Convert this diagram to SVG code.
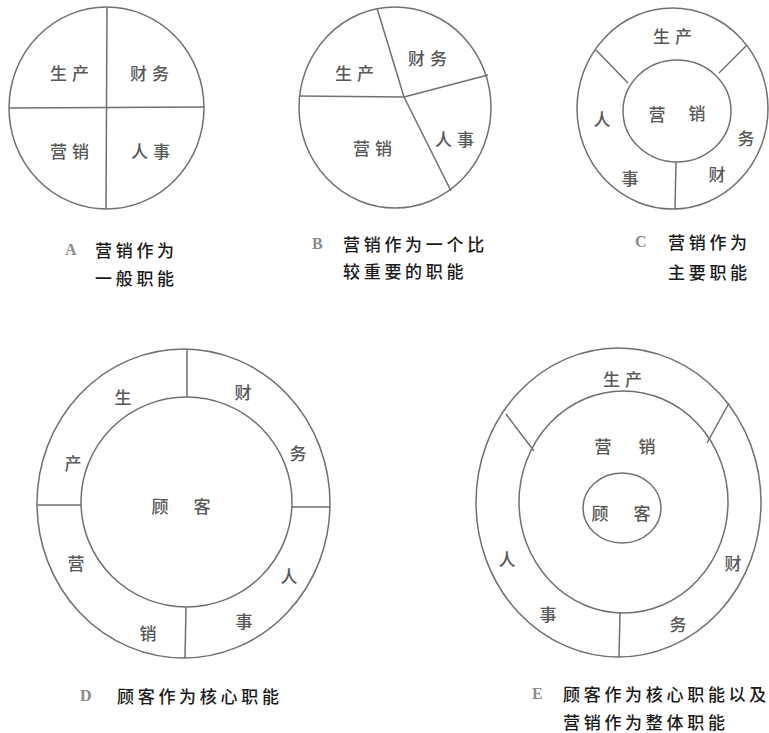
<svg xmlns="http://www.w3.org/2000/svg" width="769" height="733" viewBox="0 0 769 733">
<style>
.ln{fill:none;stroke:#707070;stroke-width:1.5}
.t{font-family:"Noto Sans CJK SC","Noto Sans CJK JP",sans-serif;font-size:17px;font-weight:500;fill:#585858;dominant-baseline:central}
.tp{letter-spacing:5px}
.c{text-anchor:middle}
.cap{font-family:"Noto Sans CJK SC","Noto Sans CJK JP",sans-serif;font-size:17px;font-weight:500;fill:#1a1a1a;letter-spacing:3.7px;dominant-baseline:central}
.let{font-family:"Liberation Serif",serif;font-size:16px;font-weight:bold;fill:#8a8a8a;dominant-baseline:central}
</style>
<rect width="769" height="733" fill="#fff"/>

<g id="diagramA">
<ellipse class="ln" cx="106.5" cy="108" rx="97.5" ry="101"/>
<g id="connectorsA">
<line class="ln" x1="107" y1="7" x2="106" y2="209"/>
<line class="ln" x1="9" y1="108" x2="204" y2="107"/>
</g>
<text class="t tp" x="50" y="72">生产</text>
<text class="t tp" x="130" y="72">财务</text>
<text class="t tp" x="50" y="150">营销</text>
<text class="t tp" x="131" y="150">人事</text>
<text class="let" x="65" y="249">A</text>
<text class="cap" x="95" y="249">营销作为</text>
<text class="cap" x="95" y="277">一般职能</text>
</g>

<g id="diagramB">
<ellipse class="ln" cx="395" cy="107.5" rx="96" ry="100.5"/>
<g id="connectorsB">
<line class="ln" x1="404" y1="97" x2="377" y2="8"/>
<line class="ln" x1="404" y1="97" x2="299" y2="96"/>
<line class="ln" x1="404" y1="97" x2="488" y2="75"/>
<line class="ln" x1="404" y1="97" x2="451" y2="191"/>
</g>
<text class="t tp" x="335" y="72">生产</text>
<text class="t tp" x="408" y="57">财务</text>
<text class="t tp" x="353" y="147">营销</text>
<text class="t tp" x="435" y="138">人事</text>
<text class="let" x="312" y="243">B</text>
<text class="cap" x="343" y="243">营销作为一个比</text>
<text class="cap" x="343" y="270">较重要的职能</text>
</g>

<g id="diagramC">
<ellipse class="ln" cx="672.5" cy="108.5" rx="95.5" ry="100.5"/>
<ellipse class="ln" cx="677" cy="111" rx="54" ry="51"/>
<g id="connectorsC">
<line class="ln" x1="596" y1="50" x2="628" y2="83"/>
<line class="ln" x1="747" y1="45" x2="719" y2="73"/>
<line class="ln" x1="676" y1="162" x2="675" y2="209"/>
</g>
<text class="t tp" x="653" y="35">生产</text>
<text class="t c" x="657" y="113">营</text>
<text class="t c" x="697" y="112">销</text>
<text class="t c" x="602" y="118">人</text>
<text class="t c" x="746" y="137">务</text>
<text class="t c" x="630" y="177">事</text>
<text class="t c" x="717" y="173">财</text>
<text class="let" x="635" y="241">C</text>
<text class="cap" x="668" y="241">营销作为</text>
<text class="cap" x="668" y="271">主要职能</text>
</g>

<g id="diagramD">
<ellipse class="ln" cx="183.5" cy="503.5" rx="146.5" ry="154.5"/>
<ellipse class="ln" cx="186.5" cy="502" rx="105.5" ry="105"/>
<g id="connectorsD">
<line class="ln" x1="187" y1="350" x2="187" y2="397"/>
<line class="ln" x1="37" y1="505" x2="81" y2="505"/>
<line class="ln" x1="292" y1="507" x2="330" y2="507"/>
<line class="ln" x1="186" y1="607" x2="185" y2="658"/>
</g>
<text class="t c" x="123" y="396">生</text>
<text class="t c" x="243" y="391">财</text>
<text class="t c" x="73" y="462">产</text>
<text class="t c" x="298" y="452">务</text>
<text class="t c" x="160" y="505">顾</text>
<text class="t c" x="202" y="505">客</text>
<text class="t c" x="76" y="562">营</text>
<text class="t c" x="289" y="575">人</text>
<text class="t c" x="148" y="632">销</text>
<text class="t c" x="244" y="620">事</text>
<text class="let" x="80" y="695">D</text>
<text class="cap" x="117" y="695">顾客作为核心职能</text>
</g>

<g id="diagramE">
<ellipse class="ln" cx="618.5" cy="502.5" rx="142.5" ry="154.5"/>
<ellipse class="ln" cx="623.5" cy="502" rx="104.5" ry="111"/>
<ellipse class="ln" cx="622" cy="508" rx="39" ry="35"/>
<g id="connectorsE">
<line class="ln" x1="506" y1="414" x2="534" y2="451"/>
<line class="ln" x1="729" y1="403" x2="707" y2="443"/>
<line class="ln" x1="620" y1="613" x2="619" y2="657"/>
</g>
<text class="t tp" x="603" y="378">生产</text>
<text class="t c" x="603" y="445">营</text>
<text class="t c" x="647" y="445">销</text>
<text class="t c" x="600" y="512">顾</text>
<text class="t c" x="642" y="512">客</text>
<text class="t c" x="507" y="558">人</text>
<text class="t c" x="733" y="562">财</text>
<text class="t c" x="548" y="613">事</text>
<text class="t c" x="678" y="623">务</text>
<text class="let" x="532" y="693">E</text>
<text class="cap" x="563" y="693">顾客作为核心职能以及</text>
<text class="cap" x="563" y="721">营销作为整体职能</text>
</g>
</svg>
